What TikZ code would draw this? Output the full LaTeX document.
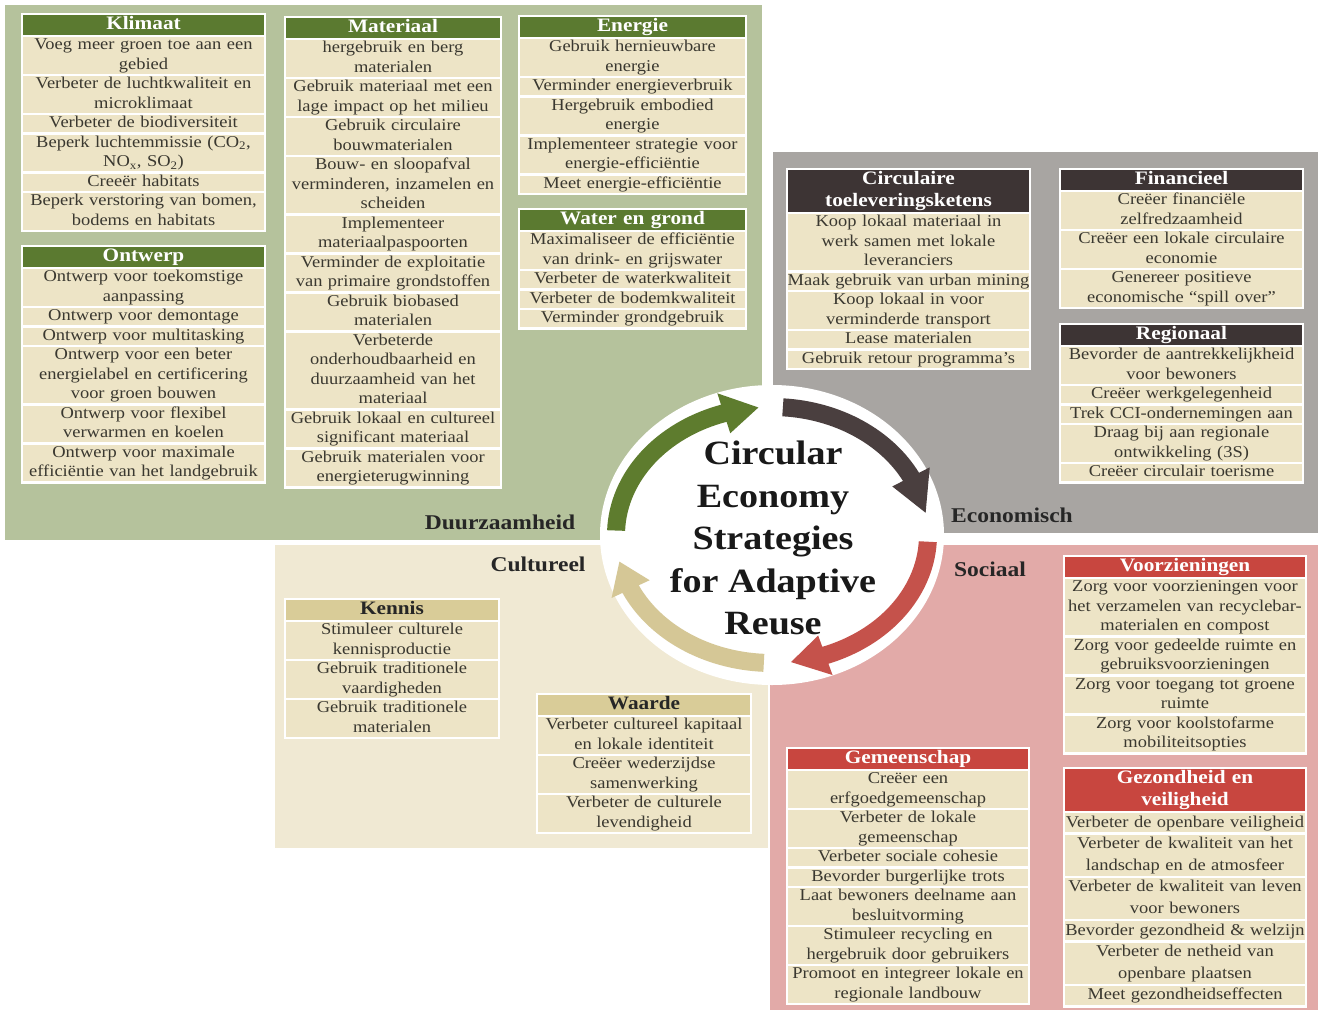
\documentclass[tikz,border=0pt]{standalone}
\usepackage{fontspec}
\setmainfont[FakeStretch=1.12]{Liberation Serif}
\usepackage{tikz}
\usetikzlibrary{positioning,calc}
\definecolor{groenvlak}{HTML}{B5C29C}
\definecolor{grijsvlak}{HTML}{A8A5A2}
\definecolor{beigevlak}{HTML}{F0E9D3}
\definecolor{rozevlak}{HTML}{E2AAA8}
\definecolor{groenkop}{HTML}{5B7A30}
\definecolor{bruinkop}{HTML}{3D3434}
\definecolor{roodkop}{HTML}{C8463F}
\definecolor{tankop}{HTML}{D9CC98}
\definecolor{rijvlak}{HTML}{EDE4C6}
\definecolor{rijtekst}{HTML}{3A3830}
\definecolor{pijlgroen}{HTML}{5E7C2E}
\definecolor{pijlbruin}{HTML}{4A3F3F}
\definecolor{pijlrood}{HTML}{C5524B}
\definecolor{pijltan}{HTML}{D5C796}
\newcommand{\rijfont}{\fontsize{16.5}{19.5}\selectfont}
\newcommand{\kopfont}{\fontsize{19}{22}\selectfont\bfseries}
\tikzset{
  kop/.style={fill=#1, draw=white, line width=2.4pt, text=white, font=\kopfont, align=center,
    inner xsep=1pt, inner ysep=0pt, outer sep=0pt, anchor=north,
    execute at begin node=\strut, execute at end node=\strut},
  rij/.style={fill=rijvlak, draw=white, line width=2.4pt, text=rijtekst, font=\rijfont, align=center,
    inner xsep=1pt, inner ysep=0pt, outer sep=0pt,
    execute at begin node=\strut, execute at end node=\strut},
  vlaklabel/.style={font=\fontsize{21}{24}\selectfont\bfseries, text=black!85},
}

\begin{document}
\begin{tikzpicture}[x=1pt, y=-1pt]
  \useasboundingbox (0,0) rectangle (1318,1010);
  % vlakken
  \fill[groenvlak] (5,5) rectangle (762,540);
  \fill[grijsvlak] (773,152) rectangle (1318,533);
  \fill[beigevlak] (275,545) rectangle (768,848);
  \fill[rozevlak] (770,545) rectangle (1318,1010);
  \coordinate (ctr) at (772,535);
  \fill[white] (ctr) ellipse [x radius=172, y radius=150];

  % pijlen rond het midden
  \fill[pijlgroen] ($(ctr)+(-178:165 and 137)$) arc[start angle=-178, end angle=-108, x radius=165, y radius=137]
    -- ($(ctr)+(-108:177 and 149)$) -- ($(ctr)+(-95:156 and 128)$) -- ($(ctr)+(-108:135 and 107)$)
    -- ($(ctr)+(-108:147 and 119)$) arc[start angle=-108, end angle=-178, x radius=147, y radius=119] -- cycle;
  \fill[pijlbruin] ($(ctr)+(-86:165 and 137)$) arc[start angle=-86, end angle=-27, x radius=165, y radius=137]
    -- ($(ctr)+(-27:177 and 149)$) -- ($(ctr)+(-10:156 and 128)$) -- ($(ctr)+(-27:135 and 107)$)
    -- ($(ctr)+(-27:147 and 119)$) arc[start angle=-27, end angle=-86, x radius=147, y radius=119] -- cycle;
  \fill[pijlrood] ($(ctr)+(3:165 and 137)$) arc[start angle=3, end angle=70, x radius=165, y radius=137]
    -- ($(ctr)+(70:177 and 149)$) -- ($(ctr)+(83:156 and 128)$) -- ($(ctr)+(70:135 and 107)$)
    -- ($(ctr)+(70:147 and 119)$) arc[start angle=70, end angle=3, x radius=147, y radius=119] -- cycle;
  \fill[pijltan] ($(ctr)+(93:165 and 137)$) arc[start angle=93, end angle=155, x radius=165, y radius=137]
    -- ($(ctr)+(155:177 and 149)$) -- ($(ctr)+(168:156 and 128)$) -- ($(ctr)+(155:135 and 107)$)
    -- ($(ctr)+(155:147 and 119)$) arc[start angle=155, end angle=93, x radius=147, y radius=119] -- cycle;

  \node[font=\fontsize{34}{42.5}\selectfont\bfseries, align=center, text=black!90] (titel) at (773,538)
    {Circular\\Economy\\Strategies\\for Adaptive\\Reuse};

  \node[vlaklabel] (duurzaam) at (500,522) {Duurzaamheid};
  \node[vlaklabel] (economisch) at (1012,515) {Economisch};
  \node[vlaklabel] (cultureel) at (538,564) {Cultureel};
  \node[vlaklabel] (sociaal) at (990,569) {Sociaal};

  % Duurzaamheid
  \begin{scope}[every node/.append style={text width=241pt}]
    \node[kop=groenkop] (klimaat) at (143.5,14) {Klimaat};
    \node[rij, below=0pt of klimaat] (klimaat1) {Voeg meer groen toe aan een\\gebied};
    \node[rij, below=0pt of klimaat1] (klimaat2) {Verbeter de luchtkwaliteit en\\microklimaat};
    \node[rij, below=0pt of klimaat2] (klimaat3) {Verbeter de biodiversiteit};
    \node[rij, below=0pt of klimaat3] (klimaat4) {Beperk luchtemmissie (CO\textsubscript{2},\\NO\textsubscript{x}, SO\textsubscript{2})};
    \node[rij, below=0pt of klimaat4] (klimaat5) {Creeër habitats};
    \node[rij, below=0pt of klimaat5] (klimaat6) {Beperk verstoring van bomen,\\bodems en habitats};

    \node[kop=groenkop] (ontwerp) at (143.5,246) {Ontwerp};
    \node[rij, below=0pt of ontwerp] (ontwerp1) {Ontwerp voor toekomstige\\aanpassing};
    \node[rij, below=0pt of ontwerp1] (ontwerp2) {Ontwerp voor demontage};
    \node[rij, below=0pt of ontwerp2] (ontwerp3) {Ontwerp voor multitasking};
    \node[rij, below=0pt of ontwerp3] (ontwerp4) {Ontwerp voor een beter\\energielabel en certificering\\voor groen bouwen};
    \node[rij, below=0pt of ontwerp4] (ontwerp5) {Ontwerp voor flexibel\\verwarmen en koelen};
    \node[rij, below=0pt of ontwerp5] (ontwerp6) {Ontwerp voor maximale\\efficiëntie van het landgebruik};
  \end{scope}

  \begin{scope}[every node/.append style={text width=214pt}]
    \node[kop=groenkop] (materiaal) at (393,17) {Materiaal};
    \node[rij, below=0pt of materiaal] (materiaal1) {hergebruik en berg\\materialen};
    \node[rij, below=0pt of materiaal1] (materiaal2) {Gebruik materiaal met een\\lage impact op het milieu};
    \node[rij, below=0pt of materiaal2] (materiaal3) {Gebruik circulaire\\bouwmaterialen};
    \node[rij, below=0pt of materiaal3] (materiaal4) {Bouw- en sloopafval\\verminderen, inzamelen en\\scheiden};
    \node[rij, below=0pt of materiaal4] (materiaal5) {Implementeer\\materiaalpaspoorten};
    \node[rij, below=0pt of materiaal5] (materiaal6) {Verminder de exploitatie\\van primaire grondstoffen};
    \node[rij, below=0pt of materiaal6] (materiaal7) {Gebruik biobased\\materialen};
    \node[rij, below=0pt of materiaal7] (materiaal8) {Verbeterde\\onderhoudbaarheid en\\duurzaamheid van het\\materiaal};
    \node[rij, below=0pt of materiaal8] (materiaal9) {Gebruik lokaal en cultureel\\significant materiaal};
    \node[rij, below=0pt of materiaal9] (materiaal10) {Gebruik materialen voor\\energieterugwinning};
  \end{scope}

  \begin{scope}[every node/.append style={text width=225pt}]
    \node[kop=groenkop] (energie) at (632.5,16) {Energie};
    \node[rij, below=0pt of energie] (energie1) {Gebruik hernieuwbare\\energie};
    \node[rij, below=0pt of energie1] (energie2) {Verminder energieverbruik};
    \node[rij, below=0pt of energie2] (energie3) {Hergebruik embodied\\energie};
    \node[rij, below=0pt of energie3] (energie4) {Implementeer strategie voor\\energie-efficiëntie};
    \node[rij, below=0pt of energie4] (energie5) {Meet energie-efficiëntie};

    \node[kop=groenkop] (water) at (632.5,209) {Water en grond};
    \node[rij, below=0pt of water] (water1) {Maximaliseer de efficiëntie\\van drink- en grijswater};
    \node[rij, below=0pt of water1] (water2) {Verbeter de waterkwaliteit};
    \node[rij, below=0pt of water2] (water3) {Verbeter de bodemkwaliteit};
    \node[rij, below=0pt of water3] (water4) {Verminder grondgebruik};
  \end{scope}

  % Economisch
  \begin{scope}[every node/.append style={text width=241pt}]
    \node[kop=bruinkop] (keten) at (908.5,169) {Circulaire\\toeleveringsketens};
    \node[rij, below=0pt of keten] (keten1) {Koop lokaal materiaal in\\werk samen met lokale\\leveranciers};
    \node[rij, below=0pt of keten1] (keten2) {\makebox[\linewidth]{Maak gebruik van urban mining}};
    \node[rij, below=0pt of keten2] (keten3) {Koop lokaal in voor\\verminderde transport};
    \node[rij, below=0pt of keten3] (keten4) {Lease materialen};
    \node[rij, below=0pt of keten4] (keten5) {Gebruik retour programma's};

    \node[kop=bruinkop] (financieel) at (1181.5,169) {Financieel};
    \node[rij, below=0pt of financieel] (financieel1) {Creëer financiële\\zelfredzaamheid};
    \node[rij, below=0pt of financieel1] (financieel2) {Creëer een lokale circulaire\\economie};
    \node[rij, below=0pt of financieel2] (financieel3) {Genereer positieve\\economische “spill over”};

    \node[kop=bruinkop] (regionaal) at (1181.5,324) {Regionaal};
    \node[rij, below=0pt of regionaal] (regionaal1) {Bevorder de aantrekkelijkheid\\voor bewoners};
    \node[rij, below=0pt of regionaal1] (regionaal2) {Creëer werkgelegenheid};
    \node[rij, below=0pt of regionaal2] (regionaal3) {Trek CCI-ondernemingen aan};
    \node[rij, below=0pt of regionaal3] (regionaal4) {Draag bij aan regionale\\ontwikkeling (3S)};
    \node[rij, below=0pt of regionaal4] (regionaal5) {Creëer circulair toerisme};
  \end{scope}

  % Cultureel
  \begin{scope}[every node/.append style={text width=212pt}]
    \node[kop=tankop, text=black!85] (kennis) at (392,599) {Kennis};
    \node[rij, below=0pt of kennis] (kennis1) {Stimuleer culturele\\kennisproductie};
    \node[rij, below=0pt of kennis1] (kennis2) {Gebruik traditionele\\vaardigheden};
    \node[rij, below=0pt of kennis2] (kennis3) {Gebruik traditionele\\materialen};

    \node[kop=tankop, text=black!85] (waarde) at (644,694) {Waarde};
    \node[rij, below=0pt of waarde] (waarde1) {Verbeter cultureel kapitaal\\en lokale identiteit};
    \node[rij, below=0pt of waarde1] (waarde2) {Creëer wederzijdse\\samenwerking};
    \node[rij, below=0pt of waarde2] (waarde3) {Verbeter de culturele\\levendigheid};
  \end{scope}

  % Sociaal
  \begin{scope}[every node/.append style={text width=240pt}]
    \node[kop=roodkop] (voorz) at (1185,556) {Voorzieningen};
    \node[rij, below=0pt of voorz] (voorz1) {Zorg voor voorzieningen voor\\het verzamelen van recyclebar-\\materialen en compost};
    \node[rij, below=0pt of voorz1] (voorz2) {Zorg voor gedeelde ruimte en\\gebruiksvoorzieningen};
    \node[rij, below=0pt of voorz2] (voorz3) {Zorg voor toegang tot groene\\ruimte};
    \node[rij, below=0pt of voorz3] (voorz4) {Zorg voor koolstofarme\\mobiliteitsopties};

    \node[kop=roodkop] (gemeen) at (908,748) {Gemeenschap};
    \node[rij, below=0pt of gemeen] (gemeen1) {Creëer een\\erfgoedgemeenschap};
    \node[rij, below=0pt of gemeen1] (gemeen2) {Verbeter de lokale\\gemeenschap};
    \node[rij, below=0pt of gemeen2] (gemeen3) {Verbeter sociale cohesie};
    \node[rij, below=0pt of gemeen3] (gemeen4) {Bevorder burgerlijke trots};
    \node[rij, below=0pt of gemeen4] (gemeen5) {Laat bewoners deelname aan\\besluitvorming};
    \node[rij, below=0pt of gemeen5] (gemeen6) {Stimuleer recycling en\\hergebruik door gebruikers};
    \node[rij, below=0pt of gemeen6] (gemeen7) {Promoot en integreer lokale en\\regionale landbouw};

    \node[kop=roodkop] (gezond) at (1185,768) {Gezondheid en\\veiligheid};
    \begin{scope}[rij/.append style={font=\fontsize{16.5}{21.6}\selectfont}]
      \node[rij, below=0pt of gezond] (gezond1) {Verbeter de openbare veiligheid};
      \node[rij, below=0pt of gezond1] (gezond2) {Verbeter de kwaliteit van het\\landschap en de atmosfeer};
      \node[rij, below=0pt of gezond2] (gezond3) {Verbeter de kwaliteit van leven\\voor bewoners};
      \node[rij, below=0pt of gezond3] (gezond4) {Bevorder gezondheid \& welzijn};
      \node[rij, below=0pt of gezond4] (gezond5) {Verbeter de netheid van\\openbare plaatsen};
      \node[rij, below=0pt of gezond5] (gezond6) {Meet gezondheidseffecten};
    \end{scope}
  \end{scope}
\end{tikzpicture}
\end{document}
